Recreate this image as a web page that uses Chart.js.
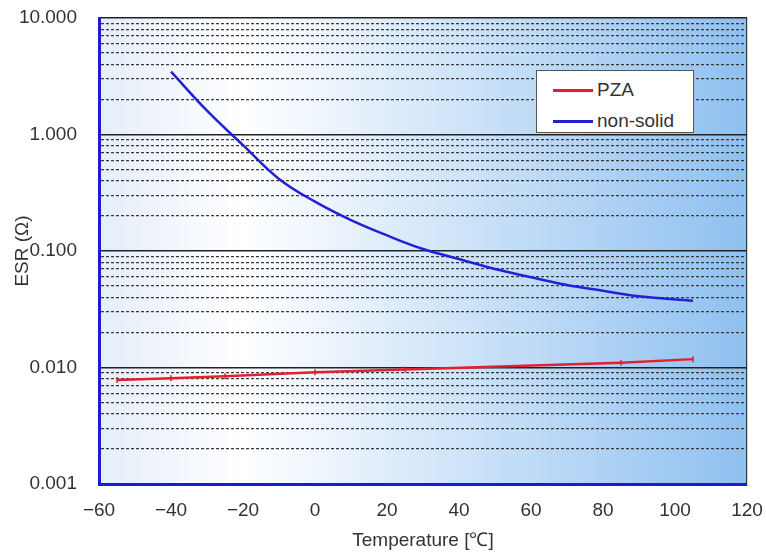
<!DOCTYPE html>
<html>
<head>
<meta charset="utf-8">
<script src="https://cdn.jsdelivr.net/npm/chart.js@4/dist/chart.umd.min.js"></script>
<style>
  html, body { margin: 0; padding: 0; background: #fff; }
  #wrap { position: relative; width: 766px; height: 554px; }
  #legend {
    position: absolute; left: 536px; top: 70px; width: 158px; height: 63px;
    background: #fff; border: 1px solid #555; box-sizing: border-box;
    font: 19px "Liberation Sans", Arial, sans-serif; color: #333;
  }
  .item { position: absolute; left: 16px; height: 22px; display: flex; align-items: center; }
  .sw { width: 40px; height: 3px; margin-right: 4px; }
</style>
</head>
<body>
<div id="wrap">
  <canvas id="c" width="766" height="554"></canvas>
  <div id="legend"></div>
</div>
<script>
/* ═══════════════════════════════════════════
   DATA
═══════════════════════════════════════════ */
const pzaTemp = [-55, -40, -25, 0, 25, 85, 105];
const pzaEsr  = [0.0078, 0.0081, 0.0084, 0.0091, 0.0096, 0.0110, 0.0118];

const nsTemp = [-40, -30, -20, -10, 0, 10, 20, 30, 40, 50, 60, 70, 80, 90, 105];
const nsEsr  = [3.46, 1.6, 0.81, 0.415, 0.265, 0.184, 0.136, 0.104, 0.0853, 0.070, 0.0595, 0.051, 0.0456, 0.0408, 0.0374];

const xTicks = [-60, -40, -20, 0, 20, 40, 60, 80, 100, 120];
const yDecades = [0.001, 0.01, 0.1, 1, 10];
const yMinorMult = [2, 3, 4, 5, 6, 7, 8, 9];

/* ═══════════════════════════════════════════
   TICKS
═══════════════════════════════════════════ */
const yTicks = [];
yDecades.forEach((d, i) => {
  yTicks.push({ value: d, major: true });
  if (i < yDecades.length - 1) {
    yMinorMult.forEach(m => yTicks.push({ value: +(m * d).toPrecision(3), major: false }));
  }
});

const FONT = '"Liberation Sans", Arial, sans-serif';
const AXIS_BLUE = '#1c1ccf';

const bgPlugin = {
  id: 'bg',
  beforeDraw(chart) {
    const { ctx, chartArea: a } = chart;
    const g = ctx.createLinearGradient(a.left, 0, a.right, 0);
    g.addColorStop(0, '#e4edf9');
    g.addColorStop(0.22, '#ffffff');
    g.addColorStop(1, '#8fc0f0');
    ctx.save();
    ctx.fillStyle = g;
    ctx.fillRect(a.left, a.top, a.right - a.left, a.bottom - a.top);
    ctx.restore();
  }
};

const chart = new Chart(document.getElementById('c'), {
  type: 'line',
  data: {
    datasets: [
      {
        label: 'PZA',
        data: pzaTemp.map((t, i) => ({ x: t, y: pzaEsr[i] })),
        borderColor: '#e3202c', borderWidth: 2.5,
        pointStyle: 'line', rotation: 90, pointRadius: 3,
        pointBorderColor: '#e3202c', pointBorderWidth: 1.5,
        tension: 0
      },
      {
        label: 'non-solid',
        data: nsTemp.map((t, i) => ({ x: t, y: nsEsr[i] })),
        borderColor: '#2121d6', borderWidth: 2.5,
        pointRadius: 0, tension: 0.4
      }
    ]
  },
  options: {
    responsive: false,
    animation: false,
    layout: { padding: { top: 18, right: 19, left: 0, bottom: 0 } },
    plugins: { legend: { display: false }, tooltip: { enabled: false } },
    scales: {
      x: {
        type: 'linear', min: -60, max: 120,
        afterBuildTicks: s => { s.ticks = xTicks.map(v => ({ value: v })); },
        afterFit: s => { s.height = 70; s.paddingLeft = 0; s.paddingRight = 0; },
        grid: {
          drawTicks: false,
          color: c => (c.tick && c.tick.value === 120) ? '#333' : 'rgba(0,0,0,0)',
          lineWidth: 1.2
        },
        border: { color: AXIS_BLUE, width: 3 },
        ticks: {
          autoSkip: false, padding: 15, color: '#333',
          font: { family: FONT, size: 19 },
          callback: v => v < 0 ? '\u2212' + Math.abs(v) : String(v)
        },
        title: {
          display: true, text: 'Temperature [\u2103]', color: '#333',
          font: { family: FONT, size: 19 }, padding: { top: 0, bottom: 2 }
        }
      },
      y: {
        type: 'logarithmic', min: 0.001, max: 10,
        afterBuildTicks: s => { s.ticks = yTicks.map(t => ({ ...t })); },
        afterFit: s => { s.width = 99; s.paddingTop = 0; s.paddingBottom = 0; },
        grid: {
          drawTicks: false,
          color: c => (c.tick && c.tick.major) ? '#222' : '#3a3a3a',
          lineWidth: c => (c.tick && c.tick.major) ? 1.5 : 1.3
        },
        border: {
          color: AXIS_BLUE, width: 3,
          dash: c => (!c.tick || c.tick.major) ? [] : [3, 2]
        },
        ticks: {
          autoSkip: false, padding: 22, color: '#333',
          font: { family: FONT, size: 19 },
          callback: (v, i, ticks) => ticks[i].major ? v.toFixed(3) : ''
        },
        title: {
          display: true, text: 'ESR (\u03A9)', color: '#333',
          font: { family: FONT, size: 19 }, padding: { top: 11, bottom: 0 }
        }
      }
    }
  },
  plugins: [bgPlugin]
});

/* ═══════════════════════════════════════════
   LEGEND (html)
═══════════════════════════════════════════ */
const legendEl = document.getElementById('legend');
chart.data.datasets.forEach((ds, i) => {
  const row = document.createElement('div');
  row.className = 'item';
  row.style.top = (8 + i * 31) + 'px';
  row.innerHTML = `<span class="sw" style="background:${ds.borderColor}"></span><span>${ds.label}</span>`;
  legendEl.appendChild(row);
});
</script>
</body>
</html>
